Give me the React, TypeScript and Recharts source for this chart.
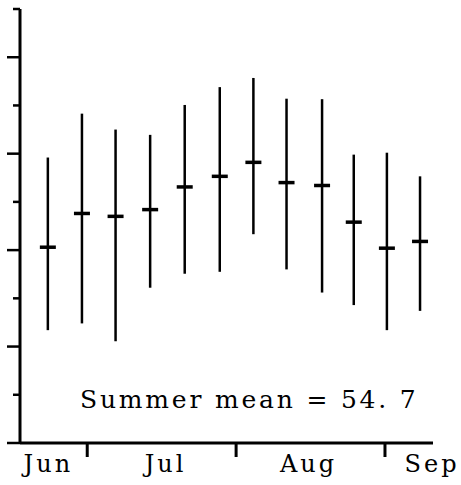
import { ComposedChart, Scatter, ErrorBar, XAxis, YAxis, Customized } from 'recharts'

// weekly periods; x is the day counted from 1 June
const weekDays = [21.8, 28.9, 35.9, 43.1, 50.3, 57.6, 64.6, 71.5, 78.9, 85.5, 92.4, 99.3]
const weekMeans = [54.06, 54.76, 54.7, 54.84, 55.31, 55.53, 55.82, 55.4, 55.34, 54.58, 54.04, 54.18]
const weekHighs = [55.92, 56.83, 56.5, 56.39, 57.01, 57.38, 57.57, 57.14, 57.13, 55.98, 56.02, 55.53]
const weekLows = [52.34, 52.48, 52.11, 53.22, 53.51, 53.55, 54.33, 53.6, 53.12, 52.86, 52.34, 52.74]

const monthNames = ['Jun', 'Jul', 'Aug', 'Sep']
const monthLabelDays = [21.9, 46.3, 76.1, 101.8]
const monthStartDays = [30, 61, 92]

const yTicks = [50, 51, 52, 53, 54, 55, 56, 57, 58, 59]
const majorYTicks = [50, 52, 54, 56, 58]

const SERIF = '"DejaVu Serif", "Liberation Serif", serif'

const data = weekDays.map((day, i) => ({
  day,
  mean: weekMeans[i],
  err: [weekMeans[i] - weekLows[i], weekHighs[i] - weekMeans[i]],
}))

const xTicks = [...monthStartDays, ...monthLabelDays].sort((a, b) => a - b)

function YTick(props: any) {
  const { x, y, payload } = props
  const len = majorYTicks.includes(payload.value) ? 13 : 7
  return <line x1={x - len} x2={x} y1={y} y2={y} stroke="#000" strokeWidth={2.5} />
}

function XTick(props: any) {
  const { x, y, payload } = props
  const start = monthStartDays.indexOf(payload.value)
  if (start >= 0) {
    return <line x1={x} x2={x} y1={y} y2={y + 14} stroke="#000" strokeWidth={3} />
  }
  const idx = monthLabelDays.indexOf(payload.value)
  return (
    <text x={x} y={y + 29} textAnchor="middle" fontFamily={SERIF} fontSize={24} letterSpacing={3} fill="#000">
      {monthNames[idx]}
    </text>
  )
}

function MeanDash(props: any) {
  const { cx, cy } = props
  return <line x1={cx - 8} x2={cx + 8} y1={cy} y2={cy} stroke="#000" strokeWidth={3.5} />
}

export default function App() {
  return (
    <div style={{ position: 'absolute', left: 0, top: 0, background: '#fff' }}>
      <ComposedChart width={461} height={485} data={data} margin={{ top: 9, right: 28, bottom: 0, left: 0 }}>
        <XAxis
          dataKey="day"
          type="number"
          domain={[16, 102]}
          ticks={xTicks}
          interval={0}
          height={42}
          tickSize={0}
          tickMargin={0}
          tickLine={false}
          axisLine={{ stroke: '#000', strokeWidth: 3 }}
          tick={<XTick />}
        />
        <YAxis
          type="number"
          domain={[50, 59]}
          ticks={yTicks}
          interval={0}
          width={20}
          tickSize={0}
          tickMargin={0}
          tickLine={false}
          axisLine={{ stroke: '#000', strokeWidth: 3 }}
          tick={<YTick />}
        />
        <Scatter dataKey="mean" isAnimationActive={false} shape={<MeanDash />}>
          <ErrorBar dataKey="err" direction="y" width={0} stroke="#000" strokeWidth={2.5} />
        </Scatter>
        <Customized
          component={() => (
            <text x={80} y={408} fontFamily={SERIF} fontSize={25} letterSpacing={2.8} fill="#000">
              Summer mean = 54. 7
            </text>
          )}
        />
      </ComposedChart>
    </div>
  )
}
